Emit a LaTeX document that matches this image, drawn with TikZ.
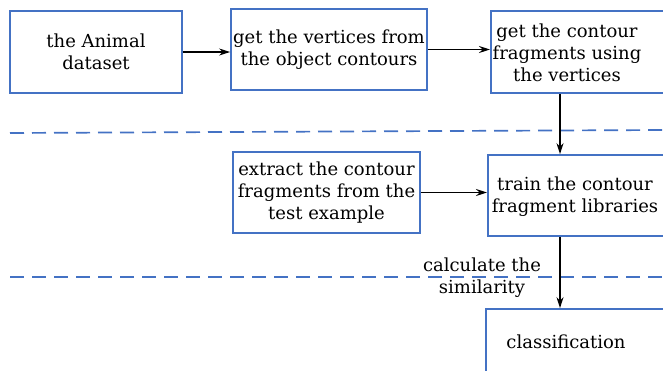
\documentclass[tikz,border=0pt]{standalone}
\usepackage{fontspec}
\setmainfont{DejaVu Serif}
\usetikzlibrary{arrows.meta}
\usetikzlibrary{positioning}
\definecolor{boxblue}{RGB}{68,114,196}

\begin{document}
\begin{tikzpicture}[x=1pt,y=-1pt]
\tikzstyle{box}=[rectangle,align=center,draw=boxblue,line width=1.8pt,fill=white,inner sep=0pt,font=\fontsize{18}{22}\selectfont]
\tikzstyle{txt}=[align=center,inner sep=0pt,font=\fontsize{18}{22}\selectfont]
\tikzstyle{arr}=[line width=1.5pt,-{Stealth[length=11pt,width=7pt]}]
\tikzstyle{sep}=[draw=boxblue,line width=1.7pt,dash pattern=on 14pt off 8pt]
\useasboundingbox (0,0) rectangle (663,370);
\clip (0,0) rectangle (663,370);
% upper row
\node[box,minimum width=172pt,minimum height=82pt] at(96, 52) (a) {the Animal\\dataset};
\node[box,minimum width=196pt,minimum height=81pt] at(329, 49.5) (b) {get the vertices from\\the object contours};
\node[box,anchor=west,minimum width=220pt,minimum height=82pt] at(490, 52) (c) {};
\node[txt] at(567, 53) (ct) {get the contour\\fragments using\\the vertices};
% middle row
\node[box,minimum width=187pt,minimum height=81pt] at(326.5, 192.5) (e) {extract the contour\\fragments from the\\test example};
\node[box,anchor=west,minimum width=220pt,minimum height=81pt] at(487, 195.5) (d) {};
\node[txt] at(575, 197) (dt) {train the contour\\fragment libraries};
% bottom row
\node[box,anchor=west,minimum width=220pt,minimum height=80pt] at(485, 349) (f) {};
\node[txt] at(566, 342) (ft) {classification};
\node[txt] at(482, 278) (sim) {calculate the\\similarity};
% separators
\draw[sep] (10, 133) -- (663, 130);
\draw[sep] (10, 277) -- (663, 277);
% connectors
\draw[arr] (a.east) -- (a.east -| b.west);
\draw[arr] (b.east) -- (b.east -| c.west);
\draw[arr] ([xshift=70pt]c.south west) -- ([xshift=73pt]d.north west);
\draw[arr] (e.east) -- (e.east -| d.west);
\draw[arr] ([xshift=73pt]d.south west) -- ([xshift=75pt]f.north west);
\end{tikzpicture}
\end{document}
